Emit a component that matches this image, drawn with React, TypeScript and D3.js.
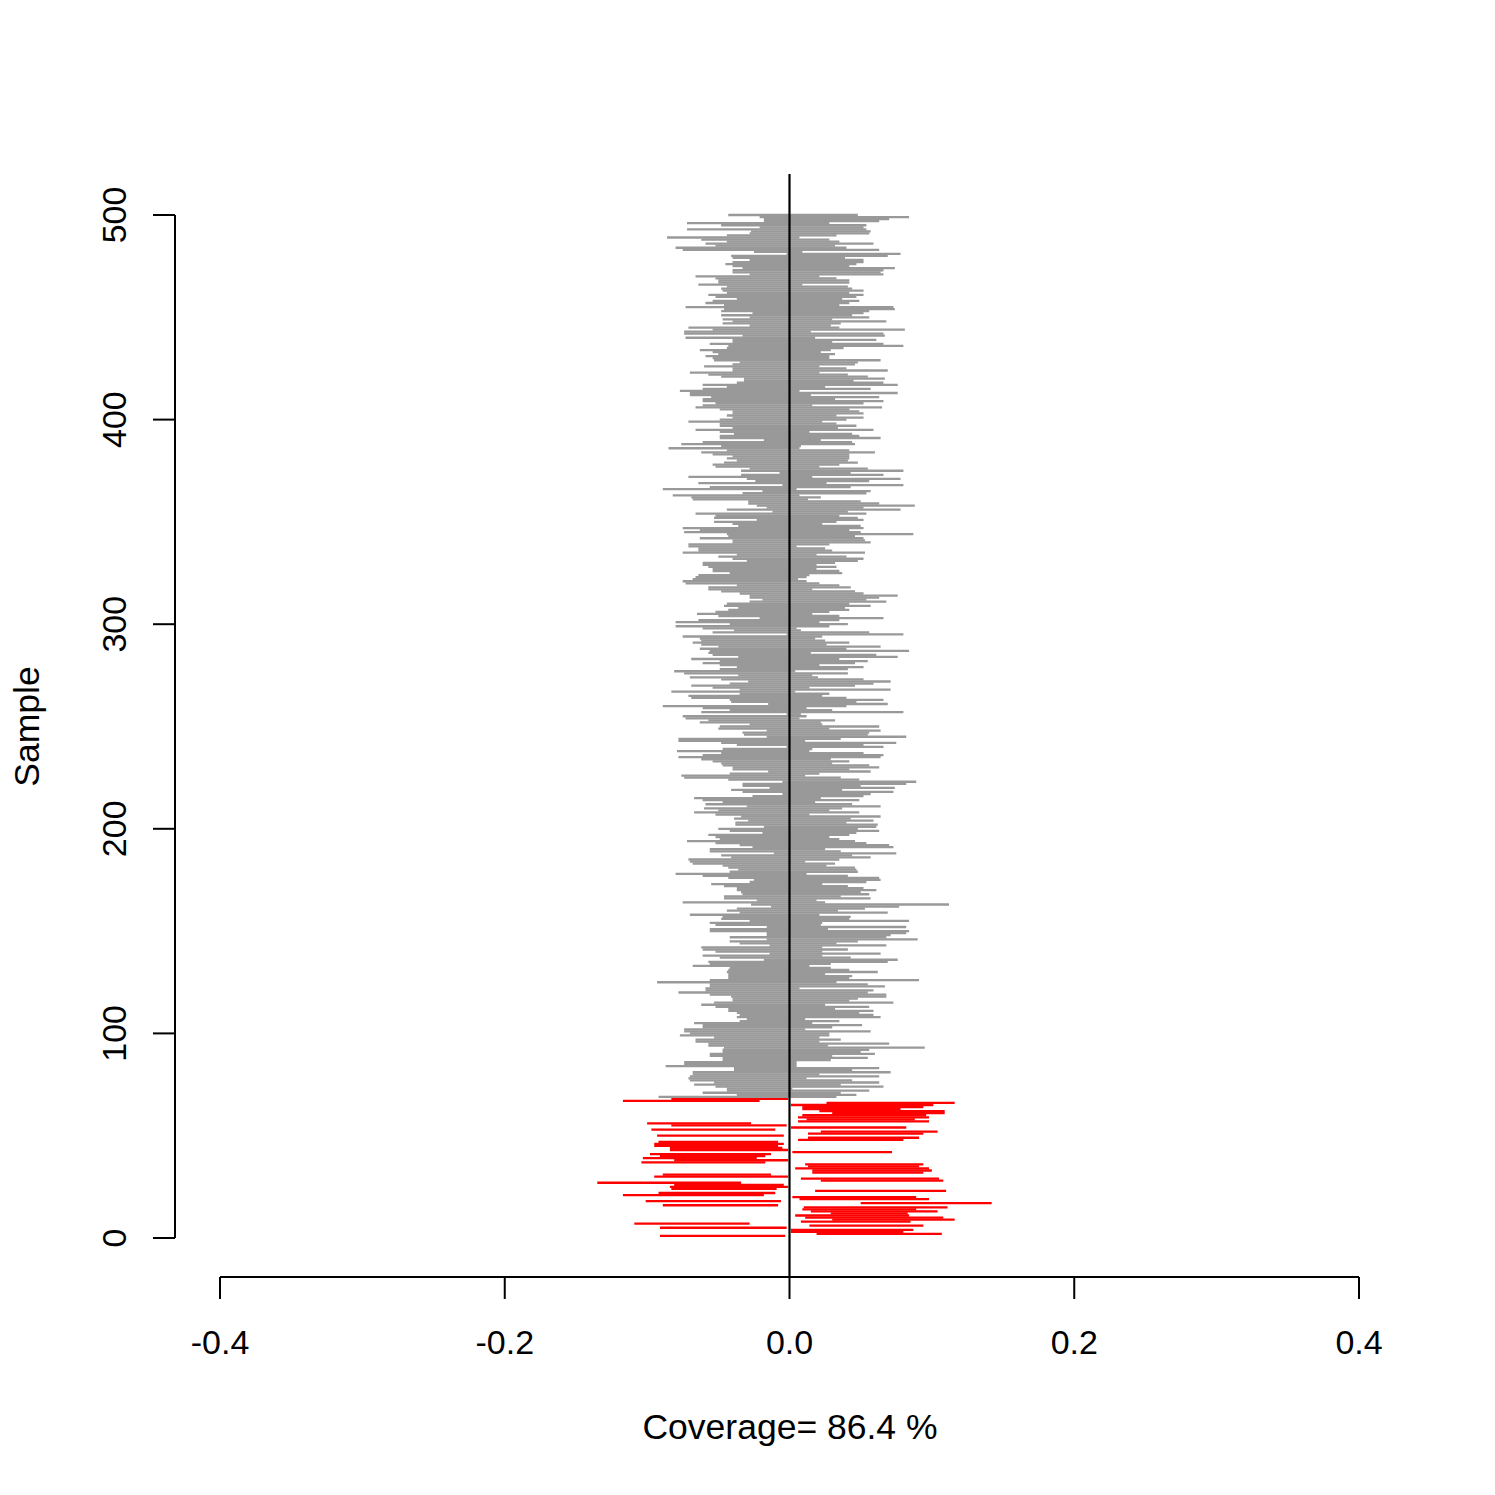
import React, { useEffect, useRef } from "react";
import * as d3 from "d3";

// interval bounds in thousandths, listed top to bottom as drawn (sample 500 down to sample 1)
const lowerMilli = [
  // samples 500-457
  -43, -21, -18, -18, -72, -48, -21, -72, -27, -28, -44, -86, -62, -44, -59, -52, -80, -75, -25, -2, -41, -40,
  -28, -40, -45, -40, -33, -40, -40, -28, -66, -52, -50, -50, -64, -44, -48, -47, -44, -57, -52, -37, -54, -59,
  // samples 456-401
  -46, -73, -46, -48, -26, -48, -28, -47, -40, -47, -28, -71, -54, -74, -74, -33, -73, -40, -40, -56, -43, -44,
  -63, -54, -50, -59, -54, -53, -35, -40, -60, -40, -40, -70, -57, -48, -32, -32, -37, -61, -44, -61, -77, -70,
  -70, -55, -61, -61, -52, -61, -66, -49, -40, -40, -44, -40,
  // samples 400-346
  -49, -71, -49, -49, -40, -66, -49, -39, -49, -49, -18, -61, -76, -48, -85, -44, -62, -54, -40, -44, -37, -46,
  -54, -52, -28, -34, -7, -34, -71, -30, -24, -64, -5, -56, -89, -19, -33, -82, -69, -68, -29, -29, -23, -16,
  -44, -12, -66, -52, -53, -23, -53, -40, -36, -75, -63,
  // samples 345-291
  -74, -44, -43, -63, -40, -40, -71, -71, -64, -64, -75, -37, -50, -40, -30, -61, -61, -57, -54, -54, -42, -64,
  -66, -68, -75, -73, -37, -57, -57, -48, -35, -28, -28, -19, -28, -44, -46, -36, -43, -52, -65, -50, -21, -64,
  -80, -42, -80, -61, -39, -54, -2, -75, -63, -62, -68,
  // samples 290-236
  -62, -50, -63, -56, -57, -54, -36, -69, -49, -61, -49, -37, -49, -81, -74, -36, -70, -48, -29, -42, -69, -54,
  -35, -83, -35, -71, -69, -42, -41, -15, -89, -61, -42, -62, -2, -75, -73, -57, -63, -28, -49, -50, -16, -33,
  -32, -16, -78, -78, -48, -37, -2, -47, -79, -48, -61,
  // samples 235-180
  -78, -62, -54, -48, -47, -40, -40, -15, -42, -76, -74, -43, -5, -33, -33, -14, -41, -33, -5, -26, -67, -61,
  -47, -59, -30, -60, -50, -67, -52, -34, -39, -29, -38, -38, -18, -50, -42, -19, -57, -52, -49, -72, -52, -35,
  -26, -56, -56, -11, -48, -41, -71, -70, -68, -47, -43, -36,
  // samples 179-125
  -42, -80, -61, -43, -25, -28, -55, -46, -37, -37, -34, -33, -46, -46, -23, -75, -27, -13, -37, -44, -35, -70,
  -47, -48, -28, -56, -52, -16, -56, -56, -16, -16, -42, -16, -42, -35, -14, -62, -61, -52, -14, -61, -49, -18,
  -57, -56, -68, -42, -43, -44, -43, -43, -43, -56, -93,
  // samples 124-69
  -56, -56, -59, -59, -78, -56, -41, -40, -40, -53, -62, -52, -43, -43, -37, -35, -37, -30, -35, -67, -61, -61,
  -74, -74, -70, -77, -53, -66, -66, -57, -57, -46, -47, -47, -56, -56, -47, -47, -74, -74, -87, -39, -39, -68,
  -68, -70, -71, -70, -53, -67, -52, -44, -44, -61, -37, -92,
  // samples 68-1
  -83, -117, 26, 1, 9, 9, 21, 30, 9, 6, 12, 6, -100, -83, 1, -97, 22, 13, -93, 13, 6, -92, -95, -95, -84, -84,
  2, -98, -91, -103, -81, -104, 11, 13, 4, 16, 16, -89, -95, 8, 22, -135, -81, -84, -83, 18, -92, -117, 2, 7,
  -101, 50, -89, 10, 9, 15, 29, 4, 11, 30, 8, -109, 14, -91, 1, 1, 19, -91,
];

const upperMilli = [
  // samples 500-457
  48, 84, 70, 63, 28, 54, 52, 54, 57, 56, 33, 7, 28, 35, 59, 32, 40, 63, 9, 78, 69, 39, 52, 52, 47, 42, 74, 66,
  64, 66, 21, 33, 42, 42, 9, 41, 44, 52, 42, 52, 47, 37, 49, 42,
  // samples 456-401
  35, 73, 74, 56, 52, 44, 56, 30, 68, 36, 29, 35, 81, 15, 66, 67, 18, 61, 30, 66, 80, 38, 29, 22, 32, 28, 28, 64,
  48, 46, 21, 40, 69, 21, 41, 55, 67, 45, 66, 76, 25, 57, 7, 76, 15, 63, 32, 66, 52, 16, 65, 42, 49, 52, 33, 52,
  // samples 400-346
  40, 23, 33, 47, 34, 59, 14, 44, 49, 64, 22, 44, 46, 8, 7, 42, 60, 42, 42, 42, 41, 48, 35, 21, 55, 80, 43, 66,
  16, 78, 56, 26, 80, 43, 5, 57, 54, 7, 22, 13, 50, 63, 88, 52, 78, 41, 54, 35, 48, 52, 33, 23, 50, 52, 42,
  // samples 345-291
  50, 87, 46, 52, 53, 57, 28, 5, 25, 30, 53, 19, 40, 52, 48, 32, 19, 33, 19, 35, 37, 14, 12, 6, 12, 21, 35, 43,
  16, 46, 52, 76, 63, 54, 68, 42, 57, 39, 42, 28, 16, 35, 66, 35, 21, 41, 28, 5, 8, 56, 80, 23, 18, 25, 42,
  // samples 290-236
  26, 64, 40, 84, 15, 61, 76, 35, 55, 46, 21, 52, 41, 4, 41, 16, 20, 52, 71, 59, 46, 14, 71, 4, 28, 23, 40, 66,
  47, 69, 40, 12, 30, 80, 8, 12, 7, 32, 22, 23, 63, 28, 64, 56, 55, 82, 36, 11, 75, 52, 66, 16, 14, 52, 66,
  // samples 235-180
  64, 29, 42, 30, 56, 63, 42, 57, 21, 11, 36, 49, 89, 82, 50, 74, 37, 73, 57, 52, 22, 49, 18, 44, 64, 37, 28, 49,
  14, 64, 43, 59, 40, 62, 61, 48, 63, 47, 42, 28, 35, 46, 54, 70, 73, 25, 36, 75, 44, 57, 35, 11, 32, 26, 46, 47,
  // samples 179-125
  48, 12, 41, 63, 64, 54, 23, 41, 52, 61, 50, 56, 36, 57, 19, 25, 112, 77, 53, 34, 69, 21, 43, 42, 84, 23, 22,
  82, 27, 84, 82, 71, 68, 90, 48, 33, 68, 23, 41, 23, 64, 23, 43, 76, 69, 29, 14, 29, 42, 62, 25, 44, 42, 91, 33,
  // samples 124-69
  55, 67, 7, 59, 55, 68, 68, 48, 42, 73, 25, 56, 32, 59, 49, 59, 64, 11, 35, 16, 51, 30, 11, 57, 28, 28, 21, 36,
  21, 70, 27, 95, 56, 50, 60, 30, 55, 29, 5, 5, 5, 63, 44, 71, 21, 63, 12, 44, 63, 36, 66, 2, 56, 36, 47, 33,
  // samples 68-1
  -1, -21, 116, 101, 94, 78, 109, 109, 96, 98, 88, 98, -27, -2, 82, -10, 104, 94, -4, 91, 80, -8, -4, -8, -5, -1,
  72, -13, -17, -23, -1, -17, 94, 91, 98, 100, 94, -13, -1, 105, 108, -34, -4, -1, -9, 110, -10, -18, 89, 98,
  -6, 142, -8, 111, 89, 104, 83, 84, 108, 116, 85, -28, 94, -2, 87, 80, 107, -3,
];

const trueValue = 0;
const xTicks = [-0.4, -0.2, 0, 0.2, 0.4];
const yTicks = [0, 100, 200, 300, 400, 500];

const W = 1495;
const H = 1495;
const font = "'Liberation Sans', Arial, Helvetica, sans-serif";

export default function App() {
  const svgRef = useRef<SVGSVGElement>(null);

  useEffect(() => {
    const svg = d3.select(svgRef.current);
    svg.selectAll("*").remove();

    const n = lowerMilli.length;
    const data = lowerMilli.map((lo, i) => ({
      sample: n - i,
      lower: lo / 1000,
      upper: upperMilli[i] / 1000,
    }));
    data.sort((a, b) => a.sample - b.sample);

    const x = d3.scaleLinear().domain([-0.4, 0.4]).range([220, 1359]);
    const y = d3.scaleLinear().domain([0, 500]).range([1238, 215]);

    const covers = (d) => d.lower <= trueValue && d.upper >= trueValue;
    const coverage = (100 * data.filter(covers).length) / n;

    svg
      .append("g")
      .selectAll("line")
      .data(data)
      .join("line")
      .attr("x1", (d) => x(d.lower))
      .attr("x2", (d) => x(d.upper))
      .attr("y1", (d) => y(d.sample))
      .attr("y2", (d) => y(d.sample))
      .attr("stroke", (d) => (covers(d) ? "#999999" : "#ff0000"))
      .attr("stroke-width", 2.3);

    // vertical reference line at the true value, full plot height
    svg
      .append("line")
      .attr("x1", x(trueValue))
      .attr("x2", x(trueValue))
      .attr("y1", 174)
      .attr("y2", 1278)
      .attr("stroke", "#000")
      .attr("stroke-width", 2.2);

    const xAxis = svg
      .append("g")
      .attr("transform", "translate(0,1277)")
      .call(
        d3
          .axisBottom(x)
          .tickValues(xTicks)
          .tickSize(22)
          .tickSizeOuter(0)
          .tickPadding(31)
          .offset(0)
          .tickFormat((d) => d.toFixed(1))
      );

    const yAxis = svg
      .append("g")
      .attr("transform", "translate(175,0)")
      .call(
        d3
          .axisLeft(y)
          .tickValues(yTicks)
          .tickSize(22)
          .tickSizeOuter(0)
          .offset(0)
          .tickFormat((d) => String(d))
      );

    [xAxis, yAxis].forEach((g) => {
      g.attr("font-family", font).attr("font-size", 34);
      g.selectAll("path, line").attr("stroke", "#000").attr("stroke-width", 2);
      g.selectAll("text").attr("fill", "#000");
    });

    yAxis
      .selectAll("text")
      .attr("transform", "rotate(-90)")
      .attr("x", 0)
      .attr("y", -49)
      .attr("dy", 0)
      .attr("text-anchor", "middle");

    svg
      .append("text")
      .attr("x", 790)
      .attr("y", 1439)
      .attr("text-anchor", "middle")
      .attr("font-family", font)
      .attr("font-size", 35.5)
      .text(`Coverage= ${coverage.toFixed(1)} %`);

    svg
      .append("text")
      .attr("transform", `translate(39,${(y(0) + y(500)) / 2}) rotate(-90)`)
      .attr("text-anchor", "middle")
      .attr("font-family", font)
      .attr("font-size", 35.5)
      .text("Sample");
  }, []);

  return (
    <svg
      ref={svgRef}
      width={W}
      height={H}
      style={{ position: "absolute", left: 0, top: 0, background: "#fff" }}
    />
  );
}
